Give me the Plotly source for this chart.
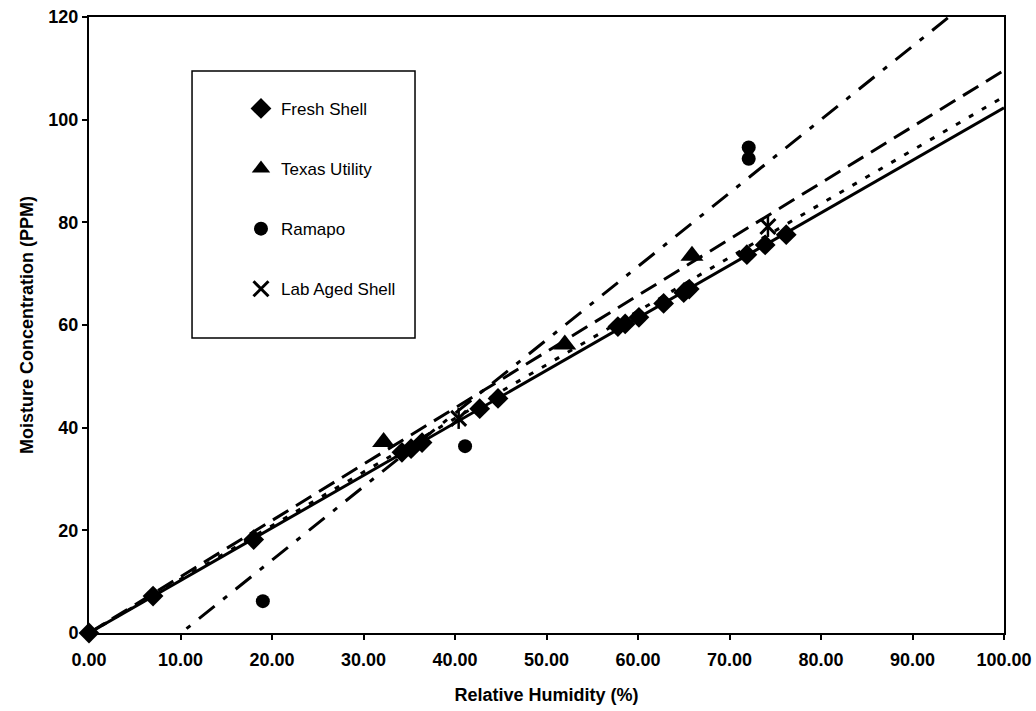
import plotly.graph_objects as go

# ---- data ----
fresh_rh = [0.0, 7.0, 18.0, 34.2, 35.2, 36.4, 42.7, 44.7, 57.8, 58.6, 60.1, 62.8, 65.0, 65.6, 71.9, 73.9, 76.2]
fresh_ppm = [0.0, 7.2, 18.2, 35.2, 35.9, 37.1, 43.7, 45.7, 59.7, 60.2, 61.5, 64.2, 66.3, 67.0, 73.7, 75.6, 77.6]

texas_rh = [32.2, 52.0, 65.9]
texas_ppm = [37.2, 56.2, 73.5]

ramapo_rh = [19.0, 41.1, 72.1, 72.1]
ramapo_ppm = [6.2, 36.4, 92.4, 94.6]

lab_rh = [40.4, 74.2]
lab_ppm = [41.8, 79.2]

series_names = ["Fresh Shell", "Texas Utility", "Ramapo", "Lab Aged Shell"]
# linear trend lines (slope, intercept)
trend_slope = [1.023, 1.096, 1.43, 1.045]
trend_intercept = [0.0, 0.0, -14.4, 0.0]
trend_x = [0.0, 100.0]

x_ticks = [0, 10, 20, 30, 40, 50, 60, 70, 80, 90, 100]
y_ticks = [0, 20, 40, 60, 80, 100, 120]

FONT = "Liberation Sans"

fig = go.Figure()

# trend lines
dashes = ["solid", "18px,9px", "20px,11px,5px,11px", "5px,10px"]
for s, b, d in zip(trend_slope, trend_intercept, dashes):
    fig.add_trace(go.Scatter(
        x=trend_x, y=[s * v + b for v in trend_x], mode="lines",
        line=dict(color="black", width=3, dash=d),
        showlegend=False, hoverinfo="skip"))

# markers
fig.add_trace(go.Scatter(x=fresh_rh, y=fresh_ppm, mode="markers", name=series_names[0],
                         legendgroup="a", cliponaxis=False,
                         marker=dict(symbol="diamond", size=16, color="black")))
fig.add_trace(go.Scatter(x=texas_rh, y=texas_ppm, mode="markers", name=series_names[1],
                         legendgroup="b", cliponaxis=False,
                         marker=dict(symbol="triangle-up", size=20, color="black")))
fig.add_trace(go.Scatter(x=ramapo_rh, y=ramapo_ppm, mode="markers", name=series_names[2],
                         legendgroup="c", cliponaxis=False,
                         marker=dict(symbol="circle", size=14, color="black")))
fig.add_trace(go.Scatter(x=lab_rh, y=lab_ppm, mode="markers", name=series_names[3],
                         legendgroup="d", cliponaxis=False,
                         marker=dict(symbol="x-thin-open", size=15, color="black",
                                     line=dict(color="black", width=3))))
fig.add_trace(go.Scatter(x=lab_rh, y=lab_ppm, mode="markers", showlegend=False,
                         cliponaxis=False, hoverinfo="skip",
                         marker=dict(symbol="line-ns-open", size=15, color="black",
                                     line=dict(color="black", width=2.5))))

axis_common = dict(
    showgrid=False, zeroline=False, showline=True, linecolor="black", linewidth=2,
    mirror=True, ticks="outside", ticklen=5, tickwidth=1.5, tickcolor="black",
    tickfont=dict(family=FONT, size=18, color="black"), automargin=False,
)

fig.update_xaxes(range=[0, 100], tickvals=x_ticks,
                 ticktext=[f"<b>{v:.2f}</b>" for v in x_ticks],
                 ticklabelstandoff=4,
                 title=dict(text="<b>Relative Humidity (%)</b>",
                            font=dict(family=FONT, size=18, color="black"), standoff=20),
                 **axis_common)
fig.update_yaxes(range=[0, 120], tickvals=y_ticks,
                 ticktext=[f"<b>{v}</b>" for v in y_ticks],
                 title=dict(text="<b>Moisture Concentration (PPM)</b>",
                            font=dict(family=FONT, size=18, color="black"), standoff=10),
                 **axis_common)

# legend frame
fig.add_shape(type="rect", xref="paper", yref="paper",
              x0=0.1126, x1=0.3563, y0=0.4789, y1=0.9123,
              line=dict(color="black", width=1.5), fillcolor="white", layer="below")

fig.update_layout(
    width=1036, height=711,
    margin=dict(l=89, r=32, t=17, b=78),
    paper_bgcolor="white", plot_bgcolor="white",
    font=dict(family=FONT, color="black"),
    showlegend=True,
    legend=dict(
        x=0.1661, y=0.880, xanchor="left", yanchor="top",
        bgcolor="rgba(0,0,0,0)", borderwidth=0,
        font=dict(family=FONT, size=17, color="black"),
        tracegroupgap=35, itemsizing="trace",
    ),
)

fig.write_html("out.html")
